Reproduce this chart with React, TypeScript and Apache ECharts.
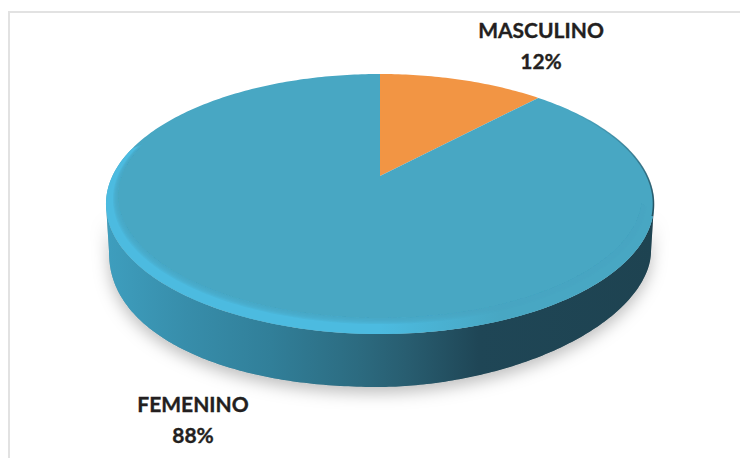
import React, { useEffect, useRef } from "react";
import * as echarts from "echarts";

const categories = ["MASCULINO", "FEMENINO"];
const percentages = [12, 88];
const sliceColors = ["#F29544", "#48A7C3"];

// Label anchors, in pixels, for each category.
const labelAnchors: Record<string, [number, number]> = {
  MASCULINO: [541, 45],
  FEMENINO: [193, 419],
};

// Disc geometry: the circular top face seen in perspective.
const CX = 380;
const APEX_Y = 176;
const TILT = 0.2154;
const SCALE_X = 267.6;
const SCALE_Y = 124;
const FACE = "#48A7C3";

// Projects a point of the unit circle onto the page.
function project(u: number, v: number): [number, number] {
  const w = 1 + TILT * v;
  return [CX + (SCALE_X * u) / w, APEX_Y - (SCALE_Y * v) / w];
}

function ellipseArc(cx: number, cy: number, rx: number, ry: number, a0: number, a1: number, steps = 180) {
  const pts: [number, number][] = [];
  for (let i = 0; i <= steps; i++) {
    const a = a0 + ((a1 - a0) * i) / steps;
    pts.push([cx + rx * Math.cos(a), cy + ry * Math.sin(a)]);
  }
  return pts;
}

// Lower rim of the wall: fuller on the left, tighter on the right.
function lowerRim(): [number, number][] {
  const pts: [number, number][] = [];
  const steps = 220;
  for (let i = 0; i <= steps; i++) {
    const a = (Math.PI * i) / steps;
    const c = Math.cos(a);
    const s = Math.sin(a);
    const n = c >= 0 ? 1.85 : 2.15;
    const x = Math.sign(c) * Math.pow(Math.abs(c), 2 / n);
    const y = Math.pow(s, 2 / n);
    pts.push([CX + 271 * x, 252 + 135 * y]);
  }
  return pts;
}

const horizontal = (stops: [number, string][]) =>
  new echarts.graphic.LinearGradient(
    0,
    0,
    1,
    0,
    stops.map(([offset, color]) => ({ offset, color })),
  );

// Side wall and the soft shadow it casts on the page.
function renderWall() {
  const upper = ellipseArc(CX, 204, 274, 130, Math.PI, 0, 120);
  const outline = [...upper, ...lowerRim()];
  return {
    type: "group",
    children: [
      {
        type: "polygon",
        shape: { points: outline },
        style: { fill: "#b0b0b0", shadowColor: "rgba(0,0,0,0.26)", shadowBlur: 16, shadowOffsetY: 6 },
      },
      {
        type: "polygon",
        shape: { points: outline },
        style: {
          fill: horizontal([
            [0, "#3E9EBE"],
            [0.15, "#378DAA"],
            [0.3, "#317F99"],
            [0.46, "#2C6B80"],
            [0.55, "#285D70"],
            [0.68, "#1F4656"],
            [1, "#1E4351"],
          ]),
        },
      },
      // Soft transition from the top face into the wall.
      ...[4, 3, 2, 1].map((grow) => ({
        type: "polygon",
        shape: { points: ellipseArc(CX, 204, 274, 130 + grow, Math.PI, 0, 160).concat(ellipseArc(CX, 204, 274, 130 + grow, 0, Math.PI, 160)) },
        style: {
          fill: horizontal([
            [0, "#4CBBE0"],
            [0.45, "#4CBBE0"],
            [0.62, FACE],
            [1, FACE],
          ]),
          opacity: 0.3,
        },
      })),
    ],
  };
}

// One slice of the top face, swept clockwise from twelve o'clock.
function renderSlice(params: any, api: any) {
  const index = params.dataIndex;
  const total = percentages.reduce((a, b) => a + b, 0);
  const before = percentages.slice(0, index).reduce((a, b) => a + b, 0);
  const start = (before / total) * 2 * Math.PI;
  const end = ((before + api.value(1)) / total) * 2 * Math.PI;
  const steps = Math.max(8, Math.round((end - start) * 60));
  const points: [number, number][] = [project(0, 0)];
  for (let i = 0; i <= steps; i++) {
    const a = start + ((end - start) * i) / steps;
    points.push(project(Math.sin(a), Math.cos(a)));
  }
  const name = categories[index];
  const [lx, ly] = labelAnchors[name];
  return {
    type: "group",
    children: [
      { type: "polygon", shape: { points }, style: { fill: sliceColors[index] } },
      {
        type: "text",
        z2: 10,
        x: lx,
        y: ly,
        style: {
          text: `${name}\n${api.value(1)}%`,
          fill: "#231F20",
          stroke: "#231F20",
          lineWidth: 0.35,
          font: "700 21px Lato",
          lineHeight: 31,
          align: "center",
          verticalAlign: "middle",
        },
      },
    ],
  };
}

// Rounded bevel along the front-left edge of the top face, feathered inwards,
// with a thin dark edge where the far right of the face turns away.
function renderBevel() {
  const A0 = Math.PI * 0.02;
  const A1 = Math.PI * 1.14;
  const innerArc = (t: number, from: number, to: number) =>
    ellipseArc(CX, 196 + 6 * t, 262 + 10 * t, 122 + 6 * t, from, to, 200);
  const outer = ellipseArc(CX, 204, 274, 130, A1, A0, 200);
  return {
    type: "group",
    children: [
      {
        type: "polygon",
        shape: { points: [...outer, ...innerArc(0, A0, A1)] },
        style: {
          fill: horizontal([
            [0, "#4CBBE0"],
            [0.5, "#4CBBE0"],
            [0.72, FACE],
            [1, FACE],
          ]),
        },
      },
      ...[0.1, 0.2, 0.3, 0.4, 0.5].map((t) => ({
        type: "polygon",
        shape: { points: [...innerArc(t, A0, A1), ...innerArc(0, A1, A0)] },
        style: { fill: FACE, opacity: 0.28 },
      })),
      {
        type: "polyline",
        shape: { points: ellipseArc(CX, 204, 273.5, 129.5, -Math.PI * 0.26, Math.PI * 0.03, 60) },
        style: {
          fill: "none",
          lineWidth: 1.6,
          stroke: new echarts.graphic.LinearGradient(0, 0, 0, 1, [
            { offset: 0, color: "rgba(30,67,81,0)" },
            { offset: 0.8, color: "rgba(30,67,81,0.75)" },
            { offset: 1, color: "rgba(30,67,81,0.9)" },
          ]),
        },
      },
    ],
  };
}

export default function App() {
  const ref = useRef<HTMLDivElement>(null);

  useEffect(() => {
    const chart = echarts.init(ref.current!, undefined, { renderer: "svg" });
    chart.setOption({
      animation: false,
      backgroundColor: "#FFFFFF",
      graphic: [
        { type: "line", shape: { x1: 8, y1: 12, x2: 740, y2: 12 }, style: { stroke: "#E2E2E2", lineWidth: 2 } },
        { type: "line", shape: { x1: 9, y1: 11, x2: 9, y2: 458 }, style: { stroke: "#E2E2E2", lineWidth: 2 } },
      ],
      series: [
        { type: "custom", coordinateSystem: "none", z: 1, data: [[0]], renderItem: renderWall },
        {
          type: "custom",
          coordinateSystem: "none",
          z: 2,
          encode: { value: 1 },
          data: categories.map((name, i) => ({ name, value: [i, percentages[i]] })),
          renderItem: renderSlice,
        },
        { type: "custom", coordinateSystem: "none", z: 3, data: [[0]], renderItem: renderBevel },
      ],
    });
    return () => chart.dispose();
  }, []);

  return <div ref={ref} style={{ position: "fixed", left: 0, top: 0, width: 740, height: 458 }} />;
}
